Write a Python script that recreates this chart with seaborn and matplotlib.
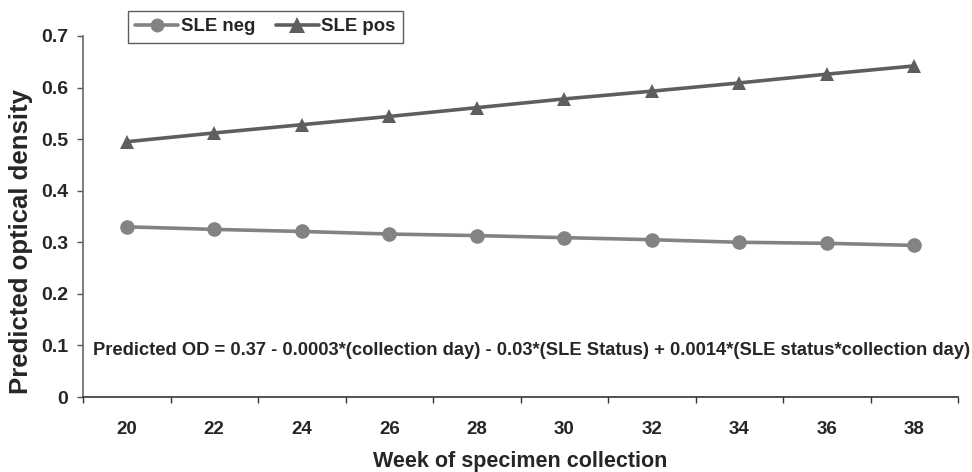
import matplotlib
matplotlib.use("Agg")
import matplotlib.pyplot as plt
import seaborn as sns
import pandas as pd
from matplotlib.ticker import FixedLocator
from matplotlib.lines import Line2D

weeks = [20, 22, 24, 26, 28, 30, 32, 34, 36, 38]
sle_neg = [0.330, 0.325, 0.321, 0.316, 0.313, 0.309, 0.305, 0.300, 0.298, 0.294]
sle_pos = [0.495, 0.512, 0.528, 0.544, 0.561, 0.578, 0.593, 0.609, 0.626, 0.642]
series_names = ["SLE neg", "SLE pos"]
y_ticks = [0, 0.1, 0.2, 0.3, 0.4, 0.5, 0.6, 0.7]
y_tick_labels = ["0", "0.1", "0.2", "0.3", "0.4", "0.5", "0.6", "0.7"]
equation = ("Predicted OD = 0.37 - 0.0003*(collection day) - 0.03*(SLE Status) "
            "+ 0.0014*(SLE status*collection day)")

df = pd.DataFrame({
    "week": weeks * 2,
    "od": sle_neg + sle_pos,
    "group": [series_names[0]] * len(weeks) + [series_names[1]] * len(weeks),
})

sns.set_style("white")
plt.rcParams["font.family"] = ["Liberation Sans", "DejaVu Sans"]
plt.rcParams["font.weight"] = "bold"

fig = plt.figure(figsize=(9.72, 4.72), dpi=100)
ax = fig.add_axes([83 / 972, 1 - 397 / 472, 875 / 972, 361 / 472])

palette = {"SLE neg": "#838383", "SLE pos": "#5e5e5e"}
sns.lineplot(data=df, x="week", y="od", hue="group", style="group",
             markers={"SLE neg": "o", "SLE pos": "^"}, dashes=False,
             palette=palette, linewidth=2.6, markersize=10.5,
             markeredgewidth=0, ax=ax, legend=False)

ax.set_xlim(19, 39)
ax.set_ylim(0, 0.7)
ax.set_yticks(y_ticks)
ax.set_yticklabels(y_tick_labels, fontsize=14, fontweight="bold")
ax.set_xticks(weeks)
ax.set_xticklabels([str(w) for w in weeks], fontsize=13.5, fontweight="bold")
ax.xaxis.set_minor_locator(FixedLocator([w - 1 for w in weeks] + [39]))
ax.tick_params(axis="x", which="major", length=0, pad=17)
ax.tick_params(axis="x", which="minor", length=4.5, width=1, color="#333333", direction="out", bottom=True)
ax.tick_params(axis="y", which="major", length=4.5, width=1, color="#555555", direction="out", left=True, pad=6)

for s in ["top", "right"]:
    ax.spines[s].set_visible(False)
ax.spines["left"].set_color("#666666")
ax.spines["bottom"].set_color("#333333")
ax.spines["left"].set_linewidth(1.2)
ax.spines["bottom"].set_linewidth(1.2)

ax.set_xlabel("Week of specimen collection", fontsize=15.5, fontweight="bold")
ax.set_ylabel("Predicted optical density", fontsize=18.5, fontweight="bold")
ax.xaxis.set_label_coords(0.5, -(462 - 397) / 361)
ax.yaxis.set_label_coords(-(83 - 21) / 875, (397 - 242) / 361)
ax.xaxis.label.set_va("center")
ax.yaxis.label.set_va("center")

ax.text(10 / 875, 0.13, equation, transform=ax.transAxes, fontsize=13.2,
        fontweight="bold", ha="left", va="center", clip_on=False)

handles = [Line2D([], [], color=palette["SLE neg"], marker="o", lw=2.6, markersize=10, markeredgewidth=0),
           Line2D([], [], color=palette["SLE pos"], marker="^", lw=2.6, markersize=11, markeredgewidth=0)]
leg = fig.legend(handles, series_names, loc="upper left",
                 bbox_to_anchor=(128 / 972, 1 - 11 / 472), bbox_transform=fig.transFigure,
                 ncol=2, frameon=True, fancybox=False, numpoints=1,
                 prop={"size": 13.4, "weight": "bold"}, handlelength=2.3,
                 handletextpad=0.15, columnspacing=1.1, borderpad=0.4, borderaxespad=0)
leg.get_frame().set_edgecolor("#333333")
leg.get_frame().set_linewidth(1.0)

fig.savefig("out.png", dpi=100)
